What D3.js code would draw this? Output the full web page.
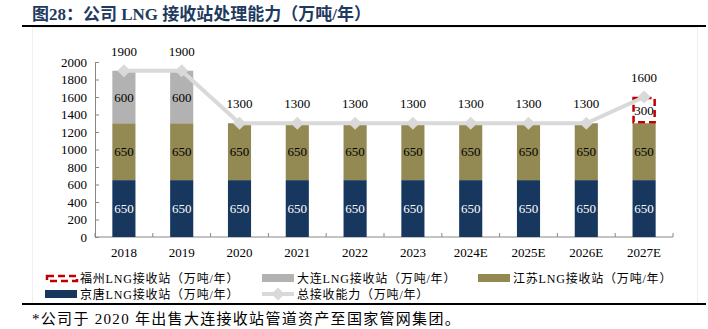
<!DOCTYPE html>
<html>
<head>
<meta charset="utf-8">
<script src="https://cdn.jsdelivr.net/npm/d3@7/dist/d3.min.js"></script>
<style>
  html, body { margin: 0; padding: 0; background: #fff; }
  svg { display: block; }
</style>
</head>
<body>
<svg id="chart" width="708" height="329"></svg>
<script>
// LNG terminal capacity by year (10k tonnes / year)
const categories = ["2018", "2019", "2020", "2021", "2022", "2023", "2024E", "2025E", "2026E", "2027E"];
const jingtang = [650, 650, 650, 650, 650, 650, 650, 650, 650, 650];
const jiangsu  = [650, 650, 650, 650, 650, 650, 650, 650, 650, 650];
const dalian   = [600, 600, 0, 0, 0, 0, 0, 0, 0, 0];
const fuzhou   = [0, 0, 0, 0, 0, 0, 0, 0, 0, 300];
const total    = [1900, 1900, 1300, 1300, 1300, 1300, 1300, 1300, 1300, 1600];
const yTicks   = [0, 200, 400, 600, 800, 1000, 1200, 1400, 1600, 1800, 2000];

const seriesNames = {
  fuzhou: "福州LNG接收站（万吨/年）",
  dalian: "大连LNG接收站（万吨/年）",
  jiangsu: "江苏LNG接收站（万吨/年）",
  jingtang: "京唐LNG接收站（万吨/年）",
  total: "总接收能力（万吨/年）"
};
const colors = { jingtang: "#17375e", jiangsu: "#938953", dalian: "#b2b2b2", fuzhou: "#c00000", line: "#d9d9d9" };

const serif = "'Liberation Serif', 'Times New Roman', serif";
const cjk = "'Liberation Serif', 'Noto Sans CJK SC', serif";

const svg = d3.select("#chart");

// frame
svg.append("rect").attr("x", 32.5).attr("y", 27.5).attr("width", 665).attr("height", 276)
  .attr("fill", "none").attr("stroke", "#efefef").attr("stroke-width", 1);
svg.append("line").attr("x1", 22).attr("x2", 706).attr("y1", 26).attr("y2", 26)
  .attr("stroke", "#000").attr("stroke-width", 2);
svg.append("line").attr("x1", 22).attr("x2", 706).attr("y1", 304).attr("y2", 304)
  .attr("stroke", "#000").attr("stroke-width", 2);

// title
svg.append("text").attr("x", 32).attr("y", 20)
  .attr("font-family", cjk).attr("font-weight", "bold").attr("font-size", 17)
  .attr("fill", "#1f3a60")
  .text("图28：公司 LNG 接收站处理能力（万吨/年）");

// footnote
svg.append("text").attr("x", 32).attr("y", 324)
  .attr("font-family", cjk).attr("font-size", 15).attr("letter-spacing", 1.3)
  .attr("fill", "#000")
  .text("*公司于 2020 年出售大连接收站管道资产至国家管网集团。");

const x = d3.scaleBand().domain(categories).range([95, 673]).paddingInner(0.6).paddingOuter(0.3);
const y = d3.scaleLinear().domain([0, 2000]).range([237, 62]);

// y axis
const yAxis = svg.append("g").attr("transform", "translate(95,0)")
  .call(d3.axisLeft(y).tickValues(yTicks).tickSize(-4).tickPadding(8).tickFormat(d3.format("d")));
yAxis.select(".domain").attr("stroke", "#888");
yAxis.selectAll(".tick line").attr("stroke", "#888");
yAxis.selectAll("text").attr("font-family", serif).attr("font-size", 13).attr("fill", "#000");

// x axis with ticks at category boundaries
const xg = svg.append("g").attr("transform", "translate(0,237)");
xg.append("line").attr("x1", 95).attr("x2", 673).attr("stroke", "#888");
const step = x.step();
d3.range(categories.length + 1).forEach(i => {
  const xx = 95 + i * step;
  xg.append("line").attr("x1", xx).attr("x2", xx).attr("y1", 0).attr("y2", -4).attr("stroke", "#888");
});
xg.selectAll("text.cat").data(categories).join("text").attr("class", "cat")
  .attr("x", d => x(d) + x.bandwidth() / 2).attr("y", 20)
  .attr("text-anchor", "middle").attr("font-family", serif).attr("font-size", 13).attr("fill", "#000")
  .text(d => d);

// stacked bars
const rows = categories.map((c, i) => ({ cat: c, jingtang: jingtang[i], jiangsu: jiangsu[i], dalian: dalian[i], fuzhou: fuzhou[i] }));
const keys = ["jingtang", "jiangsu", "dalian", "fuzhou"];
const stack = d3.stack().keys(keys)(rows);

const bars = svg.append("g");
stack.forEach(layer => {
  const key = layer.key;
  layer.forEach(seg => {
    const v = seg[1] - seg[0];
    if (v <= 0) return;
    const x0 = x(seg.data.cat), w = x.bandwidth();
    const yTop = y(seg[1]), h = y(seg[0]) - y(seg[1]);
    if (key === "fuzhou") {
      bars.append("rect").attr("x", x0 + 1).attr("y", yTop + 1).attr("width", w - 2).attr("height", h - 2)
        .attr("fill", "#fff").attr("stroke", colors.fuzhou).attr("stroke-width", 2.5)
        .attr("stroke-dasharray", "7,4");
    } else {
      bars.append("rect").attr("x", x0).attr("y", yTop).attr("width", w).attr("height", h)
        .attr("fill", colors[key]);
    }
    bars.append("text").attr("x", x0 + w / 2).attr("y", (yTop + y(seg[0])) / 2 + 4.5)
      .attr("text-anchor", "middle").attr("font-family", serif).attr("font-size", 13)
      .attr("fill", key === "jingtang" ? "#fff" : "#000")
      .text(v);
  });
});

// total line with diamond markers
const line = d3.line().x((d, i) => x(categories[i]) + x.bandwidth() / 2).y(d => y(d));
svg.append("path").datum(total).attr("d", line).attr("fill", "none")
  .attr("stroke", colors.line).attr("stroke-width", 4);
const sym = d3.symbol().type(d3.symbolDiamond2).size(110);
svg.append("g").selectAll("path").data(total).join("path")
  .attr("transform", (d, i) => `translate(${x(categories[i]) + x.bandwidth() / 2},${y(d)})`)
  .attr("d", sym).attr("fill", colors.line);
svg.append("g").selectAll("text").data(total).join("text")
  .attr("x", (d, i) => x(categories[i]) + x.bandwidth() / 2).attr("y", d => y(d) - 15)
  .attr("text-anchor", "middle").attr("font-family", serif).attr("font-size", 13).attr("fill", "#000")
  .text(d => d);

// legend
const lg = svg.append("g").attr("font-family", cjk).attr("font-size", 12).attr("fill", "#000");
function legendText(xx, yy, t) {
  lg.append("text").attr("x", xx).attr("y", yy + 4.5).attr("letter-spacing", 0.8).text(t);
}
// fuzhou
lg.append("rect").attr("x", 47).attr("y", 276).attr("width", 30).attr("height", 5)
  .attr("fill", "none").attr("stroke", colors.fuzhou).attr("stroke-width", 2.5).attr("stroke-dasharray", "7,4");
legendText(80, 278, seriesNames.fuzhou);
// dalian
lg.append("rect").attr("x", 262).attr("y", 274).attr("width", 32).attr("height", 8).attr("fill", colors.dalian);
legendText(297, 278, seriesNames.dalian);
// jiangsu
lg.append("rect").attr("x", 478).attr("y", 274).attr("width", 32).attr("height", 8).attr("fill", colors.jiangsu);
legendText(513, 278, seriesNames.jiangsu);
// jingtang
lg.append("rect").attr("x", 45).attr("y", 290).attr("width", 32).attr("height", 8).attr("fill", colors.jingtang);
legendText(80, 294, seriesNames.jingtang);
// total
lg.append("line").attr("x1", 262).attr("x2", 294).attr("y1", 294).attr("y2", 294)
  .attr("stroke", colors.line).attr("stroke-width", 4);
lg.append("path").attr("transform", "translate(278,294)").attr("d", sym).attr("fill", colors.line);
legendText(297, 294, seriesNames.total);
</script>
</body>
</html>
